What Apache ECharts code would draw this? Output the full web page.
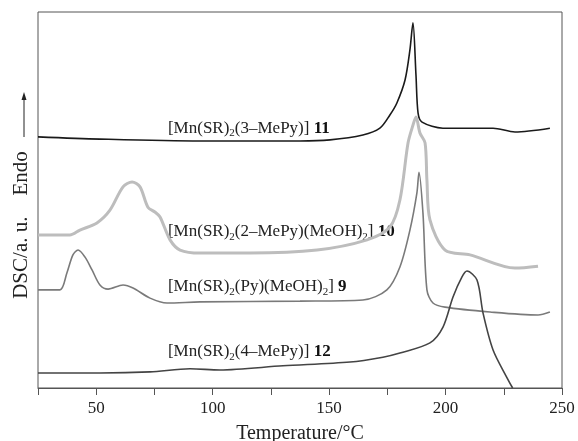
<!DOCTYPE html>
<html>
<head>
<meta charset="utf-8">
<script src="https://cdn.jsdelivr.net/npm/echarts@6/dist/echarts.min.js"></script>
<style>
  html, body { margin: 0; padding: 0; background: #fff; }
  #graph { width: 578px; height: 441px; }
</style>
</head>
<body>
<div id="graph"></div>
<script>
// temperature (°C), DSC signal (a.u., arbitrary offset per curve)
const curve11 = [
  [25, 66.8], [51.6, 66.2], [94.6, 65.7], [137.5, 65.7], [150.4, 66.0], [164.5, 67.3],
  [171.8, 69.1], [176.1, 72.6], [179.1, 75.8], [182.6, 81.9], [184.7, 89.9], [186.0, 97.1],
  [187.3, 83.2], [188.2, 73.1], [189.9, 70.7], [198.9, 69.1], [220.4, 69.1], [229.8, 68.1], [244.8, 69.1]
];
const curve10 = [
  [25, 40.7], [38.7, 40.7], [43.0, 42.0], [50.3, 43.9], [55.9, 47.3], [61.5, 53.5], [65.4, 54.8],
  [68.8, 53.5], [72.2, 48.1], [75.2, 46.8], [77.4, 45.5], [81.7, 39.4], [86.0, 36.7], [94.6, 35.9],
  [116.0, 35.9], [144.8, 36.7], [166.3, 39.4], [176.1, 42.8], [180.4, 50.0], [183.9, 65.2],
  [186.0, 69.9], [187.3, 72.1], [189.0, 67.8], [191.2, 65.2], [192.0, 55.3], [193.3, 44.7],
  [199.8, 36.7], [210.5, 35.4], [229.8, 31.9], [239.7, 32.4]
];
const curve9 = [
  [25, 26.1], [34.4, 26.1], [37.4, 30.6], [40.0, 35.4], [42.2, 36.7], [45.2, 34.8], [48.2, 31.4],
  [51.6, 27.4], [55.1, 26.3], [61.5, 27.4], [65.8, 26.6], [73.1, 23.9], [80.4, 22.6], [94.6, 22.9],
  [137.5, 23.1], [164.5, 23.4], [174.8, 26.1], [180.4, 32.2], [184.7, 42.0], [187.7, 51.9],
  [188.6, 57.4], [190.3, 46.5], [192.0, 26.1], [194.6, 22.6], [199.8, 21.5], [219.1, 20.2],
  [239.7, 19.4], [244.8, 20.2]
];
const curve12 = [
  [25, 4.0], [51.6, 4.0], [73.1, 4.3], [90.3, 5.1], [103.1, 4.8], [130.2, 5.9], [159.0, 6.9],
  [173.1, 8.2], [180.4, 9.3], [193.3, 12.0], [198.9, 16.2], [203.2, 24.2], [207.0, 29.5],
  [209.2, 31.1], [213.5, 28.7], [216.1, 19.9], [220.4, 10.1], [226.4, 2.7], [228.8, 0]
];

const labelNames = [
  '[Mn(SR){s|2}(3–MePy)] {b|11}',
  '[Mn(SR){s|2}(2–MePy)(MeOH){s|2}] {b|10}',
  '[Mn(SR){s|2}(Py)(MeOH){s|2}] {b|9}',
  '[Mn(SR){s|2}(4–MePy)] {b|12}'
];
const labelAnchors = [[80.8, 69.1], [80.8, 41.5], [80.8, 26.9], [80.8, 9.6]];

const serif = '"Liberation Serif", "DejaVu Serif", serif';

function makeSeries(data, color, width) {
  return {
    type: 'line',
    data: data,
    showSymbol: false,
    smooth: 0.3,
    lineStyle: { color: color, width: width },
    animation: false
  };
}

const myChart = echarts.init(document.getElementById('graph'));
myChart.setOption({
  animation: false,
  grid: {
    left: 38, right: 16, top: 12, bottom: 53,
    containLabel: false, outerBoundsMode: 'none',
    show: true, borderColor: '#555', borderWidth: 1
  },
  xAxis: {
    type: 'value',
    min: 25,
    max: 250,
    interval: 25,
    name: 'Temperature/°C',
    nameLocation: 'middle',
    nameGap: 36,
    nameTextStyle: { fontFamily: serif, fontSize: 20, color: '#222' },
    axisLine: { lineStyle: { color: '#555' } },
    axisTick: { length: 7, lineStyle: { color: '#555' } },
    axisLabel: {
      fontFamily: serif, fontSize: 17, color: '#222', margin: 12,
      formatter: function (v) { return v % 50 === 0 ? String(v) : ''; }
    },
    splitLine: { show: false }
  },
  yAxis: { type: 'value', min: 0, max: 100, show: false },
  series: [
    makeSeries(curve11, '#1a1a1a', 1.6),
    makeSeries(curve10, '#bdbdbd', 3),
    makeSeries(curve9, '#7a7a7a', 1.6),
    makeSeries(curve12, '#444', 1.6)
  ]
});

const graphics = labelAnchors.map(function (a, i) {
  const p = myChart.convertToPixel({ gridIndex: 0 }, a);
  return {
    type: 'text',
    x: p[0],
    y: p[1],
    style: {
      text: labelNames[i],
      fill: '#222',
      font: '17px ' + serif,
      verticalAlign: 'middle',
      lineHeight: 21,
      rich: {
        s: { fontSize: 11, fontFamily: serif, lineHeight: 11, verticalAlign: 'bottom', fill: '#222' },
        b: { fontSize: 17, fontFamily: serif, fontWeight: 'bold', fill: '#111' }
      }
    }
  };
});

graphics.push({
  type: 'text',
  x: 21,
  y: 225,
  rotation: Math.PI / 2,
  style: {
    text: 'DSC/a. u.    Endo',
    font: '21px ' + serif,
    fill: '#222',
    align: 'center',
    verticalAlign: 'middle'
  }
});
graphics.push({
  type: 'line',
  shape: { x1: 24, y1: 137, x2: 24, y2: 99 },
  style: { stroke: '#222', lineWidth: 1 }
});
graphics.push({
  type: 'polygon',
  shape: { points: [[24, 92], [21.5, 100], [26.5, 100]] },
  style: { fill: '#222' }
});

myChart.setOption({ graphic: graphics });
</script>
</body>
</html>
